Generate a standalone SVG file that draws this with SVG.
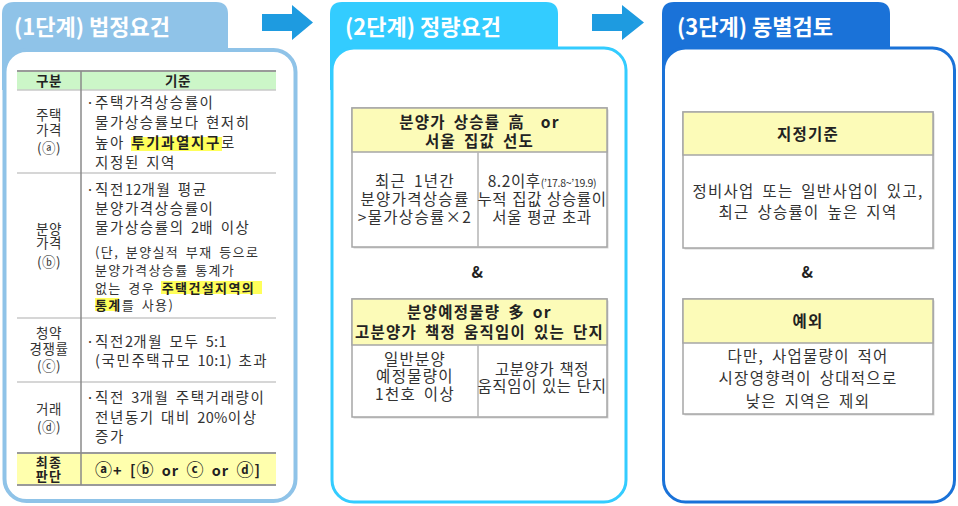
<svg xmlns="http://www.w3.org/2000/svg" width="958" height="506" viewBox="0 0 958 506">
<style>
text{font-family:"Noto Sans CJK KR","Noto Sans",sans-serif;fill:#333}
.title{font-size:22px;font-weight:700;fill:#fff}
.t{font-size:14.5px;letter-spacing:1.6px;word-spacing:1.5px}
.l{font-size:13.5px;letter-spacing:0.5px}
.s{font-size:13px;letter-spacing:1.4px;word-spacing:2.3px}
.c{text-anchor:middle}
.b{font-weight:700;fill:#222}
.n{letter-spacing:0.3px}
.cl{font-size:17px}
.m{font-size:15.5px;letter-spacing:1.3px;word-spacing:3px}
.hl{fill:#ffff5a}
.grid{stroke:#c8c8c8;stroke-width:1.5}
.gridd{stroke:#9a9a9a;stroke-width:2}
.box{fill:#fff;stroke:#a6a6a6;stroke-width:1.5}
.boxh{fill:#fcfbb8;stroke:#a6a6a6;stroke-width:1.5}
.shadow{fill:#d6d6d6}
.arrow{fill:#1e9be0}
</style>

<g id="connectors">
<polygon class="arrow" points="262,14 292,14 292,5 313,22.5 292,40 292,31 262,31"/>
<polygon class="arrow" points="592,14 622,14 622,5 644,22.5 622,40 622,31 592,31"/>
</g>

<g id="panel1">
<path d="M2,90 V14 Q2,2 14,2 H216 Q228,2 228,14 V90 Z" fill="#8fc3e8"/>
<rect x="4.5" y="50" width="291" height="451" rx="22" fill="#fff" stroke="#8fc3e8" stroke-width="4"/>
<text class="title" x="14" y="35">(1단계) 법정요건</text>
<g id="table1">
<rect x="17" y="71" width="259" height="19" fill="#ccf6c8"/>
<rect x="17" y="453" width="259" height="32" fill="#ffffad"/>
<line class="gridd" x1="17" y1="71" x2="276" y2="71"/>
<line class="grid" x1="17" y1="90" x2="276" y2="90"/>
<line class="grid" x1="17" y1="173" x2="276" y2="173"/>
<line class="grid" x1="17" y1="318" x2="276" y2="318"/>
<line class="grid" x1="17" y1="382" x2="276" y2="382"/>
<line class="gridd" x1="17" y1="453" x2="276" y2="453"/>
<line class="gridd" x1="17" y1="485" x2="276" y2="485"/>
<line x1="81" y1="71" x2="81" y2="485" stroke="#8a8a8a" stroke-width="1.5"/>
<text class="l b c" x="49" y="86">구분</text>
<text class="l b c" x="178" y="86">기준</text>
</g>
<g id="row-a">
<text class="l c"><tspan x="49" y="120">주택</tspan><tspan x="49" y="135">가격</tspan><tspan x="49" y="153">(ⓐ)</tspan></text>
<rect class="hl" x="131" y="137" width="91" height="14"/>
<text class="t"><tspan x="86" y="108">·</tspan><tspan x="95" y="108">주택가격상승률이</tspan><tspan x="95" y="128">물가상승률보다 현저히</tspan><tspan x="95" y="148">높아 <tspan class="b">투기과열지구</tspan>로</tspan><tspan x="95" y="168">지정된 지역</tspan></text>
</g>
<g id="row-b">
<text class="l c"><tspan x="49" y="234">분양</tspan><tspan x="49" y="248">가격</tspan><tspan x="49" y="267">(ⓑ)</tspan></text>
<text class="t"><tspan x="86" y="195">·</tspan><tspan x="95" y="195">직전<tspan class="n">12</tspan>개월 평균</tspan><tspan x="95" y="214">분양가격상승률이</tspan><tspan x="95" y="233">물가상승률의 <tspan class="n">2</tspan>배 이상</tspan></text>
<rect class="hl" x="161" y="281" width="101" height="13"/>
<rect class="hl" x="95" y="298" width="24" height="13"/>
<text class="s"><tspan x="95" y="256.5">(단, 분양실적 부재 등으로</tspan><tspan x="95" y="274.5">분양가격상승률 통계가</tspan><tspan x="95" y="292.5">없는 경우 <tspan class="b">주택건설지역의</tspan></tspan><tspan x="95" y="309.5"><tspan class="b">통계</tspan>를 사용)</tspan></text>
</g>
<g id="row-c">
<text class="l c"><tspan x="49" y="338">청약</tspan><tspan x="49" y="354">경쟁률</tspan><tspan x="49" y="371">(ⓒ)</tspan></text>
<text class="t"><tspan x="86" y="347">·</tspan><tspan x="95" y="347">직전<tspan class="n">2</tspan>개월 모두 <tspan class="n">5:1</tspan></tspan><tspan x="95" y="366">(국민주택규모 <tspan class="n">10:1)</tspan> 초과</tspan></text>
</g>
<g id="row-d">
<text class="l c"><tspan x="49" y="414">거래</tspan><tspan x="49" y="432">(ⓓ)</tspan></text>
<text class="t"><tspan x="86" y="403">·</tspan><tspan x="95" y="403">직전 <tspan class="n">3</tspan>개월 주택거래량이</tspan><tspan x="95" y="423">전년동기 대비 <tspan class="n">20%</tspan>이상</tspan><tspan x="95" y="442">증가</tspan></text>
</g>
<g id="row-final">
<text class="s b c"><tspan x="49" y="467">최종</tspan><tspan x="49" y="481">판단</tspan></text>
<text class="b c" x="178" y="476" style="font-size:14.5px;letter-spacing:1px;word-spacing:3px"><tspan class="cl">ⓐ</tspan>+ [<tspan class="cl">ⓑ</tspan> or <tspan class="cl">ⓒ</tspan> or <tspan class="cl">ⓓ</tspan>]</text>
</g>
</g>

<g id="panel2">
<path d="M330,90 V14 Q330,2 342,2 H546 Q558,2 558,14 V90 Z" fill="#33ccff"/>
<rect x="332" y="48" width="294" height="454" rx="22" fill="#fff" stroke="#33ccff" stroke-width="3"/>
<text class="title" x="345" y="35">(2단계) 정량요건</text>
<g id="box-price">
<rect class="shadow" x="353.5" y="109.5" width="255" height="139"/>
<rect class="box" x="352" y="108" width="255" height="139"/>
<rect class="boxh" x="352" y="108" width="255" height="44"/>
<line x1="478" y1="152" x2="478" y2="247" stroke="#b5b5b5" stroke-width="1.5"/>
<text class="m b c"><tspan x="479.5" y="128">분양가 상승률 高&#160; or</tspan><tspan x="479.5" y="147">서울 집값 선도</tspan></text>
<text class="m c"><tspan x="415" y="187">최근 1년간</tspan><tspan x="415" y="205">분양가격상승률</tspan><tspan x="415" y="223">&gt;물가상승률×2</tspan></text>
<text class="m c" style="letter-spacing:0.6px;word-spacing:1px"><tspan x="542" y="187">8.2이후<tspan font-size="10.5" letter-spacing="-0.3">(’17.8~’19.9)</tspan></tspan><tspan x="542" y="205">누적 집값 상승률이</tspan><tspan x="542" y="223">서울 평균 초과</tspan></text>
</g>
<text class="m b c" x="478" y="278">&amp;</text>
<g id="box-supply">
<rect class="shadow" x="353.5" y="300.5" width="255" height="118"/>
<rect class="box" x="352" y="299" width="255" height="118"/>
<rect class="boxh" x="352" y="299" width="255" height="46"/>
<line x1="478" y1="345" x2="478" y2="417" stroke="#b5b5b5" stroke-width="1.5"/>
<text class="m b c"><tspan x="479.5" y="318">분양예정물량 多 or</tspan><tspan x="479.5" y="338">고분양가 책정 움직임이 있는 단지</tspan></text>
<text class="m c"><tspan x="415" y="365">일반분양</tspan><tspan x="415" y="382">예정물량이</tspan><tspan x="415" y="400">1천호 이상</tspan></text>
<text class="m c" style="letter-spacing:0.6px;word-spacing:1px"><tspan x="542" y="375">고분양가 책정</tspan><tspan x="542" y="392">움직임이 있는 단지</tspan></text>
</g>
</g>

<g id="panel3">
<path d="M662,90 V14 Q662,2 674,2 H878 Q890,2 890,14 V90 Z" fill="#1a72d8"/>
<rect x="663.5" y="48" width="291" height="454" rx="22" fill="#fff" stroke="#1a72d8" stroke-width="3"/>
<text class="title" x="677" y="35">(3단계) 동별검토</text>
<g id="box-criteria">
<rect class="shadow" x="684.5" y="113.5" width="250" height="136"/>
<rect class="box" x="683" y="112" width="250" height="136"/>
<rect class="boxh" x="683" y="112" width="250" height="43"/>
<text class="m b c" x="808" y="140">지정기준</text>
<text class="m c"><tspan x="808" y="197">정비사업 또는 일반사업이 있고,</tspan><tspan x="808" y="218">최근 상승률이 높은 지역</tspan></text>
</g>
<text class="m b c" x="808" y="278">&amp;</text>
<g id="box-exception">
<rect class="shadow" x="684.5" y="300.5" width="250" height="115"/>
<rect class="box" x="683" y="299" width="250" height="115"/>
<rect class="boxh" x="683" y="299" width="250" height="44"/>
<text class="m b c" x="808" y="327">예외</text>
<text class="m c"><tspan x="808" y="362">다만, 사업물량이 적어</tspan><tspan x="808" y="384">시장영향력이 상대적으로</tspan><tspan x="808" y="407">낮은 지역은 제외</tspan></text>
</g>
</g>
</svg>
